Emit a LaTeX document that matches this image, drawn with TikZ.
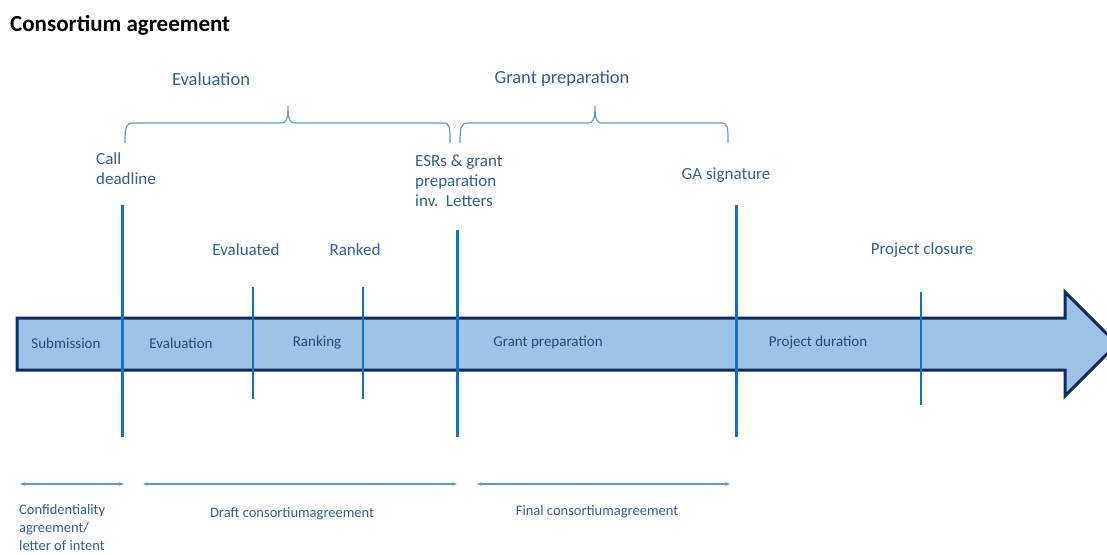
\documentclass[tikz,border=0pt]{standalone}
\usepackage{fontspec}
\setmainfont{Carlito}
\usepackage{tikz}
\usetikzlibrary{arrows.meta, positioning}
\definecolor{arrowfill}{HTML}{9DC3E6}
\definecolor{arrowline}{HTML}{0D2B5E}
\definecolor{mileblue}{HTML}{1272C4}
\definecolor{labelblue}{HTML}{2B5FA3}
\definecolor{innerblue}{HTML}{274A78}
\definecolor{braceblue}{HTML}{5B9BD5}

\begin{document}
\begin{tikzpicture}[
    x=1pt, y=-1pt,
    label/.style={text=labelblue, font=\fontsize{17}{20}\selectfont, inner sep=0pt},
    toplabel/.style={text=labelblue, font=\fontsize{18.5}{22}\selectfont, inner sep=0pt},
    phase/.style={text=innerblue, font=\fontsize{15}{18}\selectfont, inner sep=0pt},
    note/.style={text=labelblue, font=\fontsize{14.5}{18}\selectfont, inner sep=0pt, align=left},
    bigline/.style={draw=mileblue, line width=3pt},
    smallline/.style={draw=mileblue, line width=1.3pt},
    brace/.style={draw=braceblue, line width=1.2pt},
    span/.style={draw=braceblue, line width=1.2pt, {Stealth[length=5pt]}-{Stealth[length=5pt]}}
  ]
\useasboundingbox (0,0) rectangle (1107,554);

% Title
\node[anchor=west, font=\fontsize{23}{27}\selectfont\bfseries, inner sep=0pt] (title) at (10,25) {Consortium agreement};

% Timeline arrow
\draw[arrowline, line width=3pt, fill=arrowfill, line join=miter]
  (17,318) -- (1065,318) -- (1065,292) -- (1117,344) -- (1065,396) -- (1065,370) -- (17,370) -- cycle;

% Milestones
\draw[bigline] (122,205) -- (122,437);
\draw[smallline] (253,287) -- (253,399);
\draw[smallline] (363,287) -- (363,399);
\draw[bigline] (457,230) -- (457,437);
\draw[bigline] (736,205) -- (736,437);
\draw[smallline] (921,292) -- (921,405);

% Phases
\node[phase] (submission) at (66,343) {Submission};
\node[phase] (evaluation) at (181,343) {Evaluation};
\node[phase] (ranking) at (317,343) {Ranking};
\node[phase] (grantprep) at (548,343) {Grant preparation};
\node[phase] (duration) at (818,343) {Project duration};

% Milestone labels
\node[label, anchor=north west, align=left] (deadline) at (96,152) {Call\\deadline};
\node[label] (evaluated) at (246,250) {Evaluated};
\node[label] (ranked) at (355,250) {Ranked};
\node[label, anchor=north west, align=left] (esrs) at (415,155) {ESRs \& grant\\preparation\\inv.\ \ Letters};
\node[label] (signature) at (726,175) {GA signature};
\node[label] (closure) at (922,250) {Project closure};

% Braces
\draw[brace] (125,143) .. controls (125,127) and (126,123) .. (133,123) -- (281,123)
  .. controls (286,123) and (288,120) .. (288,106) .. controls (288,120) and (290,123) .. (295,123)
  -- (443,123) .. controls (450,123) and (450,127) .. (450,143);
\draw[brace] (460,143) .. controls (460,127) and (461,123) .. (468,123) -- (588,123)
  .. controls (593,123) and (595,120) .. (595,106) .. controls (595,120) and (597,123) .. (602,123)
  -- (721,123) .. controls (728,123) and (728,127) .. (728,143);
\node[toplabel] (evalphase) at (211,79) {Evaluation};
\node[toplabel] (grantphase) at (562,79) {Grant preparation};

% Agreement spans
\coordinate (s1) at (20,484);
\coordinate (e1) at (124,484);
\coordinate (s2) at (143,484);
\coordinate (e2) at (457,484);
\coordinate (s3) at (477,484);
\coordinate (e3) at (730,484);
\draw[span] (s1) -- (e1);
\draw[span] (s2) -- (e2);
\draw[span] (s3) -- (e3);

\node[note, anchor=north west] (confid) at (19,504) {Confidentiality\\agreement/\\letter of intent};
\node[note] (draft) at (292,514) {Draft consortiumagreement};
\node[note] (final) at (597,512) {Final consortiumagreement};

\end{tikzpicture}
\end{document}
